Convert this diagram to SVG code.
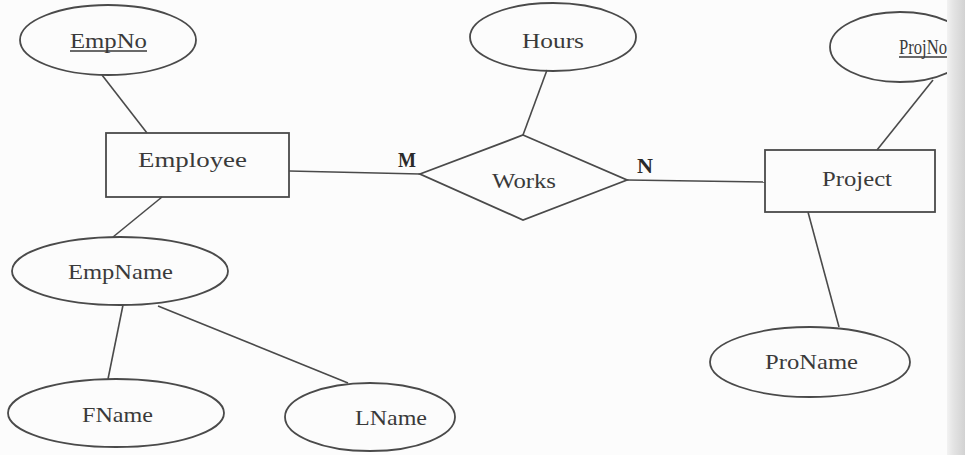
<svg xmlns="http://www.w3.org/2000/svg" width="965" height="455" viewBox="0 0 965 455">
<style>
.shape{fill:none;stroke:#4a4a4a;stroke-width:1.8}
.conn line{stroke:#4a4a4a;stroke-width:1.6}
.t{font-family:"Liberation Serif","Times New Roman",serif;font-size:22px;fill:#3a3a3a}
.card{font-family:"Liberation Serif","Times New Roman",serif;font-size:20px;font-weight:bold;fill:#2a2a2a}
</style>
<defs>
<clipPath id="page"><rect x="0" y="0" width="947" height="455"/></clipPath>
<linearGradient id="edge" x1="0" y1="0" x2="1" y2="0">
<stop offset="0" stop-color="#f2f2f2"/>
<stop offset="0.35" stop-color="#e4e4e4"/>
<stop offset="1" stop-color="#d2d2d2"/>
</linearGradient>
</defs>
<rect width="965" height="455" fill="#fcfcfc"/>
<rect x="947" y="0" width="18" height="455" fill="url(#edge)"/>
<g class="conn">
<line x1="102" y1="75" x2="147" y2="133"/>
<line x1="289" y1="171" x2="420" y2="174"/>
<line x1="547" y1="70" x2="523" y2="135"/>
<line x1="627" y1="180" x2="765" y2="182"/>
<line x1="933" y1="80" x2="877" y2="150"/>
<line x1="808" y1="212" x2="839" y2="327"/>
<line x1="162" y1="197" x2="113" y2="237"/>
<line x1="123" y1="305" x2="108" y2="379"/>
<line x1="158" y1="306" x2="348" y2="383"/>
</g>
<g id="EmpNo">
<ellipse class="shape" cx="108" cy="40" rx="88" ry="35"/>
<text class="t" x="70" y="48" textLength="77" lengthAdjust="spacingAndGlyphs">EmpNo</text>
<line x1="70" y1="51" x2="147" y2="51" stroke="#3a3a3a" stroke-width="1.3"/>
</g>
<g id="Employee">
<rect class="shape" x="106" y="133" width="183" height="64"/>
<text class="t" x="138" y="167" textLength="109" lengthAdjust="spacingAndGlyphs">Employee</text>
</g>
<g id="Hours">
<ellipse class="shape" cx="553" cy="37" rx="83" ry="34"/>
<text class="t" x="522" y="48" textLength="62" lengthAdjust="spacingAndGlyphs">Hours</text>
</g>
<g id="Works">
<polygon class="shape" points="523,135 627,180 523,220 420,174"/>
<text class="t" x="492" y="188" textLength="64" lengthAdjust="spacingAndGlyphs">Works</text>
</g>
<g id="cardM"><text class="card" x="398" y="167" textLength="18" lengthAdjust="spacingAndGlyphs">M</text></g>
<g id="cardN"><text class="card" x="637" y="173" textLength="16" lengthAdjust="spacingAndGlyphs">N</text></g>
<g id="Project">
<rect class="shape" x="765" y="150" width="170" height="62"/>
<text class="t" x="822" y="186" textLength="70" lengthAdjust="spacingAndGlyphs">Project</text>
</g>
<g id="ProjNo" clip-path="url(#page)">
<ellipse class="shape" cx="900" cy="47" rx="70" ry="35"/>
<text class="t" x="899" y="54" font-size="19" textLength="48" lengthAdjust="spacingAndGlyphs">ProjNo</text>
<line x1="899" y1="57" x2="947" y2="57" stroke="#3a3a3a" stroke-width="1.3"/>
</g>
<g id="ProName">
<ellipse class="shape" cx="810" cy="362" rx="100" ry="35"/>
<text class="t" x="765" y="369" textLength="93" lengthAdjust="spacingAndGlyphs">ProName</text>
</g>
<g id="EmpName">
<ellipse class="shape" cx="120" cy="271" rx="108" ry="34"/>
<text class="t" x="68" y="279" textLength="105" lengthAdjust="spacingAndGlyphs">EmpName</text>
</g>
<g id="FName">
<ellipse class="shape" cx="116" cy="413" rx="108" ry="34"/>
<text class="t" x="82" y="422" textLength="71" lengthAdjust="spacingAndGlyphs">FName</text>
</g>
<g id="LName">
<ellipse class="shape" cx="370" cy="417" rx="85" ry="34"/>
<text class="t" x="355" y="425" textLength="72" lengthAdjust="spacingAndGlyphs">LName</text>
</g>
</svg>
